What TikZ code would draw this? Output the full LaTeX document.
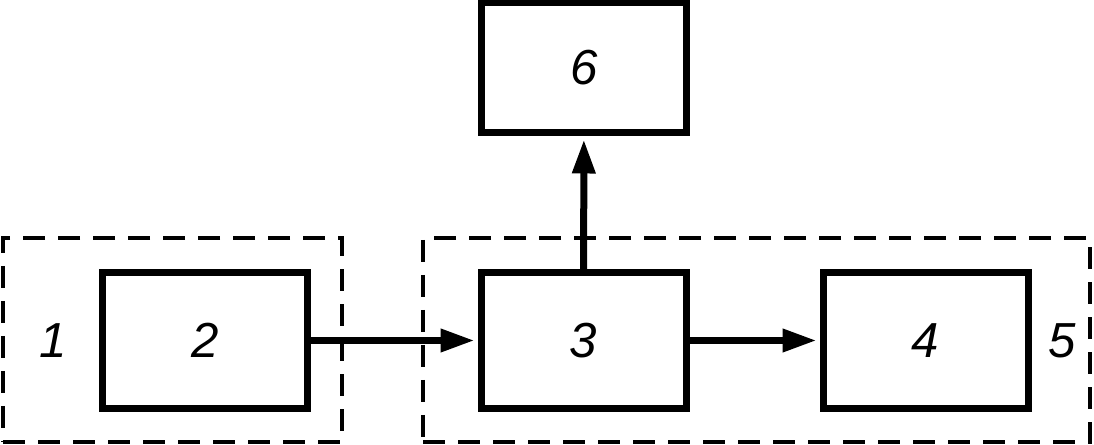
\documentclass[tikz,border=0pt]{standalone}
\usepackage{fontspec}
\setmainfont{Liberation Sans}
\usetikzlibrary{arrows.meta}
\begin{document}
\begin{tikzpicture}[
    block/.style={rectangle, draw, line width=0.14cm, minimum width=4.1cm, minimum height=2.72cm, inner sep=0pt, font=\fontsize{28}{28}\selectfont\itshape},
    group/.style={rectangle, draw, line width=0.075cm, dash pattern=on 0.44cm off 0.26cm, inner sep=0pt},
    tag/.style={inner sep=0pt, font=\fontsize{28}{28}\selectfont\itshape},
    link/.style={line width=0.14cm, -{Triangle[length=0.68cm, width=0.44cm]}, shorten >=0.06cm}
]
    \useasboundingbox (0,0) rectangle (21.88,8.9);

    % left group
    \node[group, minimum width=6.78cm, minimum height=4.08cm] (g1) at (3.45,2.1) {};
    \node[tag] (t1) at (1.06,2.09) {1};
    \node[block] (b2) at (4.1,2.09) {2};

    % right group
    \node[group, minimum width=13.34cm, minimum height=4.08cm] (g5) at (15.13,2.1) {};
    \node[block] (b3) at (11.67,2.09) {3};
    \node[block] (b4) at (18.51,2.09) {4};
    \node[tag] (t5) at (21.24,2.09) {5};

    % top
    \node[block, minimum height=2.6cm] (b6) at (11.68,7.54) {6};

    \draw[link] (b2) -- (b3);
    \draw[link] (b3) -- (b4);
    \draw[link] (b3) -- (b6);

\end{tikzpicture}
\end{document}
